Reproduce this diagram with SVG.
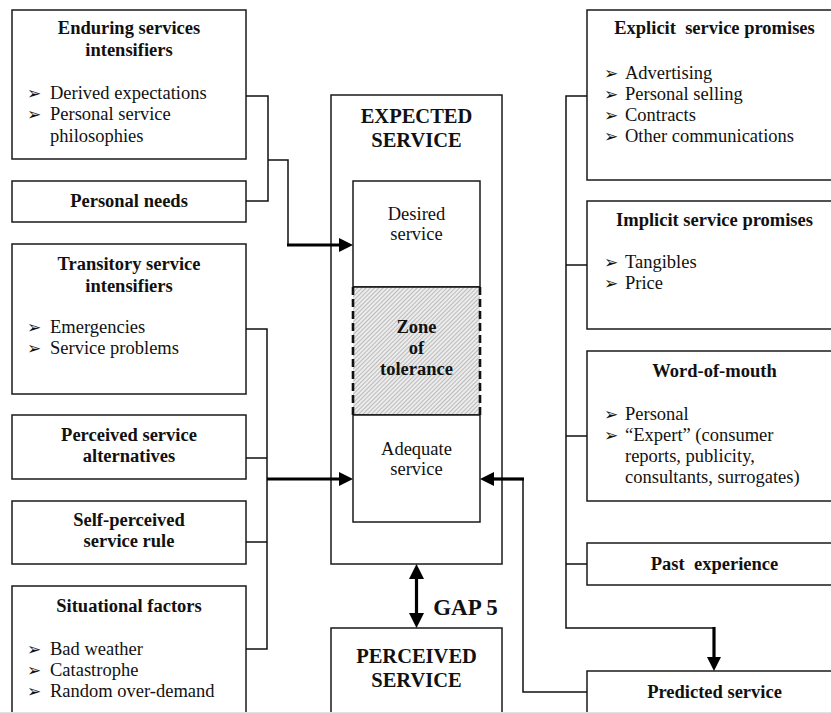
<svg xmlns="http://www.w3.org/2000/svg" width="831" height="713" viewBox="0 0 831 713">
<style>
.box{fill:#fff;stroke:#1a1a1a;stroke-width:1.5}
.t{font-family:"Liberation Serif","Times New Roman",serif;font-size:18.5px;fill:#111}
.bl{font-family:"DejaVu Sans",sans-serif;font-size:17px;fill:#111}
.b{font-weight:bold;text-anchor:middle}
.c{text-anchor:middle}
.cap{font-family:"Liberation Serif","Times New Roman",serif;font-size:20.5px;font-weight:bold;fill:#111;text-anchor:middle}
.ln{fill:none;stroke:#111;stroke-width:1.5}
.th{fill:none;stroke:#000;stroke-width:3.2}
.ah{fill:#000}
</style>
<defs>
<pattern id="hatch" patternUnits="userSpaceOnUse" width="3" height="3" patternTransform="rotate(45)">
<rect width="3" height="3" fill="#ececec"/>
<line x1="0" y1="0" x2="0" y2="3" stroke="#8a8a8a" stroke-width="1"/>
</pattern>
</defs>
<rect width="831" height="713" fill="#fff"/>

<g id="enduring">
<rect class="box" x="12" y="10" width="234" height="149"/>
<text class="t b" x="129" y="34">Enduring services</text>
<text class="t b" x="129" y="56">intensifiers</text>
<text class="bl" x="27" y="99">➢</text>
<text class="t" x="50" y="99">Derived expectations</text>
<text class="bl" x="27" y="120">➢</text>
<text class="t" x="50" y="120">Personal service</text>
<text class="t" x="50" y="142">philosophies</text>
</g>
<g id="personal-needs">
<rect class="box" x="12" y="181" width="234" height="41"/>
<text class="t b" x="129" y="207">Personal needs</text>
</g>
<g id="transitory">
<rect class="box" x="12" y="244" width="234" height="150"/>
<text class="t b" x="129" y="270">Transitory service</text>
<text class="t b" x="129" y="292">intensifiers</text>
<text class="bl" x="27" y="333">➢</text>
<text class="t" x="50" y="333">Emergencies</text>
<text class="bl" x="27" y="354">➢</text>
<text class="t" x="50" y="354">Service problems</text>
</g>
<g id="alternatives">
<rect class="box" x="12" y="415" width="234" height="64"/>
<text class="t b" x="129" y="441">Perceived service</text>
<text class="t b" x="129" y="462">alternatives</text>
</g>
<g id="self-perceived">
<rect class="box" x="12" y="501" width="234" height="63"/>
<text class="t b" x="129" y="526">Self-perceived</text>
<text class="t b" x="129" y="547">service rule</text>
</g>
<g id="situational">
<rect class="box" x="12" y="586" width="234" height="140"/>
<text class="t b" x="129" y="612">Situational factors</text>
<text class="bl" x="27" y="655">➢</text>
<text class="t" x="50" y="655">Bad weather</text>
<text class="bl" x="27" y="676">➢</text>
<text class="t" x="50" y="676">Catastrophe</text>
<text class="bl" x="27" y="697">➢</text>
<text class="t" x="50" y="697">Random over-demand</text>
</g>

<g id="expected">
<rect class="box" x="331" y="95" width="171" height="469"/>
<text class="cap" x="416.5" y="123">EXPECTED</text>
<text class="cap" x="416.5" y="147">SERVICE</text>
</g>
<g id="desired">
<rect class="box" x="353" y="181" width="127" height="106"/>
<text class="t c" x="416.5" y="220">Desired</text>
<text class="t c" x="416.5" y="240">service</text>
</g>
<g id="zone">
<rect x="353" y="287" width="127" height="128" fill="url(#hatch)"/>
<path d="M353,287 H480 M353,415 H480" stroke="#111" stroke-width="1.5" fill="none"/>
<path d="M353,287 V415 M480,287 V415" stroke="#111" stroke-width="2.6" stroke-dasharray="8,4" fill="none"/>
<text class="t b" x="416.5" y="333">Zone</text>
<text class="t b" x="416.5" y="354">of</text>
<text class="t b" x="416.5" y="375">tolerance</text>
</g>
<g id="adequate">
<rect class="box" x="353" y="415" width="127" height="107"/>
<text class="t c" x="416.5" y="455">Adequate</text>
<text class="t c" x="416.5" y="475">service</text>
</g>
<g id="gap5">
<text class="cap" x="465.5" y="615" style="font-size:23px">GAP 5</text>
</g>
<g id="perceived">
<rect class="box" x="331" y="628" width="171" height="100"/>
<text class="cap" x="416.5" y="663">PERCEIVED</text>
<text class="cap" x="416.5" y="687">SERVICE</text>
</g>

<g id="explicit">
<rect class="box" x="587" y="10" width="260" height="170"/>
<text class="t b" x="714.5" y="34">Explicit&#160; service promises</text>
<text class="bl" x="604" y="79">➢</text>
<text class="t" x="625" y="79">Advertising</text>
<text class="bl" x="604" y="100">➢</text>
<text class="t" x="625" y="100">Personal selling</text>
<text class="bl" x="604" y="121">➢</text>
<text class="t" x="625" y="121">Contracts</text>
<text class="bl" x="604" y="142">➢</text>
<text class="t" x="625" y="142">Other communications</text>
</g>
<g id="implicit">
<rect class="box" x="587" y="201" width="260" height="128"/>
<text class="t b" x="714.5" y="226">Implicit service promises</text>
<text class="bl" x="604" y="268">➢</text>
<text class="t" x="625" y="268">Tangibles</text>
<text class="bl" x="604" y="289">➢</text>
<text class="t" x="625" y="289">Price</text>
</g>
<g id="word-of-mouth">
<rect class="box" x="587" y="351" width="260" height="150"/>
<text class="t b" x="714.5" y="377">Word-of-mouth</text>
<text class="bl" x="604" y="420">➢</text>
<text class="t" x="625" y="420">Personal</text>
<text class="bl" x="604" y="441">➢</text>
<text class="t" x="625" y="441">“Expert” (consumer</text>
<text class="t" x="625" y="462">reports, publicity,</text>
<text class="t" x="625" y="483">consultants, surrogates)</text>
</g>
<g id="past-experience">
<rect class="box" x="587" y="543" width="260" height="42"/>
<text class="t b" x="714.5" y="570">Past&#160; experience</text>
</g>
<g id="predicted">
<rect class="box" x="587" y="671" width="260" height="60"/>
<text class="t b" x="714.5" y="698">Predicted service</text>
</g>

<g id="connectors">
<path class="ln" d="M246,96 H268 V201 H246"/>
<path class="ln" d="M268,160 H288 V245"/>
<path class="th" d="M287,245 H341"/>
<polygon class="ah" points="339,238 353,245 339,252"/>
<path class="ln" d="M246,329 H267 V649 H246 M246,458 H267 M246,542 H267"/>
<path class="th" d="M267,479 H341"/>
<polygon class="ah" points="339,472 353,479 339,486"/>
<path class="ln" d="M587,96 H566 V628 H714 M566,265 H587 M566,436 H587 M566,564 H587"/>
<path class="th" d="M714,627 V659"/>
<polygon class="ah" points="707,657 714,671 721,657"/>
<path class="ln" d="M587,692 H523 V479"/>
<path class="th" d="M524,479 H492"/>
<polygon class="ah" points="494,472 480,479 494,486"/>
<path class="th" d="M416.5,576 V616"/>
<polygon class="ah" points="409,579 416.5,564 424,579"/>
<polygon class="ah" points="409,613 416.5,628 424,613"/>
</g>
<line x1="0" y1="712.5" x2="831" y2="712.5" stroke="#e2e2e2" stroke-width="1"/>
</svg>
